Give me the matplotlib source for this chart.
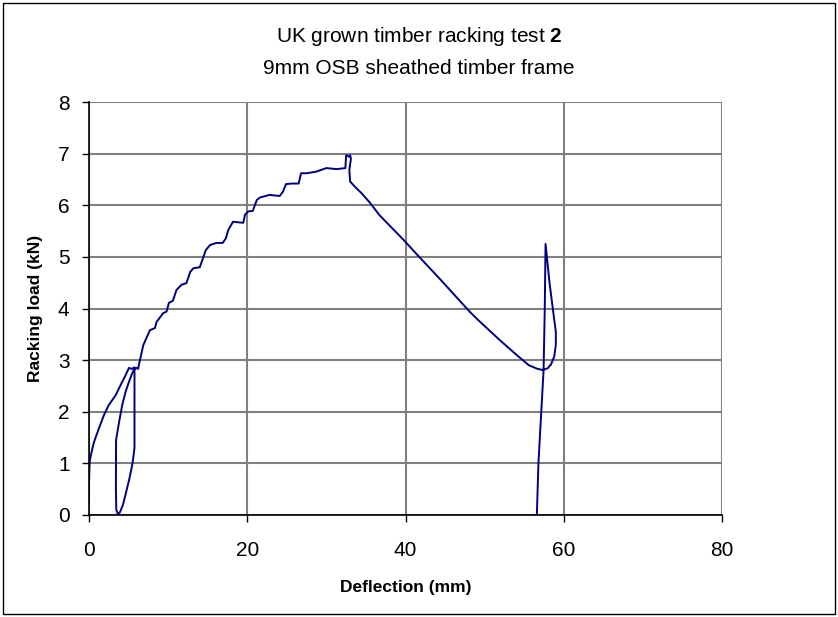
import matplotlib
matplotlib.use('Agg')
import matplotlib.pyplot as plt
from matplotlib.patches import Rectangle

plt.rcParams['font.family'] = ['Liberation Sans', 'DejaVu Sans']
plt.rcParams['mathtext.fontset'] = 'custom'
plt.rcParams['mathtext.rm'] = 'Liberation Sans'
plt.rcParams['mathtext.bf'] = 'Liberation Sans:bold'

# racking test trace: deflection (mm) against load (kN)
deflection = [0, 0, 0.05, 0.1, 0.3, 0.6, 1.26, 1.9, 2.5, 3.37, 4.0, 4.63, 5.05, 5.4, 5.75,
              5.75, 5.75, 5.5, 5.1, 4.7, 4.3, 3.9, 3.65, 3.45, 3.4, 3.42,
              3.8, 4.2, 4.63, 5.05, 5.47, 5.7, 6.0, 6.2, 6.44, 6.86, 7.7, 8.33, 8.54,
              9.38, 9.8, 10.1, 10.6, 11.06, 11.7, 12.3, 12.8, 13.2, 14.0, 14.4, 14.76,
              15.3, 16.1, 16.9, 17.3, 17.6, 18.2, 19.5, 19.7, 20.1, 20.7, 21.2, 21.6,
              22.8, 24.1, 24.5, 24.9, 25.6, 26.5, 26.8, 27.5, 28.7, 30.0, 31.3, 32.4,
              32.5, 32.9, 33.0, 33.1, 32.9, 33.0, 33.6, 34.4, 35.5, 36.7, 39.75, 41.55,
              44.3, 48.1, 49.3, 51.9, 53.97, 55.6, 56.7, 57.3, 57.96, 58.4, 58.8, 59.0,
              59.0, 58.8, 58.2, 57.7, 57.6, 57.45, 57.1, 56.8, 56.6]
load = [0.35, 0.6, 0.9, 1.05, 1.2, 1.4, 1.68, 1.94, 2.13, 2.32, 2.52, 2.71, 2.85, 2.83, 2.86,
        2.8, 1.3, 1.0, 0.7, 0.45, 0.2, 0.05, 0.02, 0.1, 0.5, 1.45,
        1.8, 2.13, 2.39, 2.58, 2.75, 2.82, 2.85, 2.83, 3.0, 3.29, 3.58, 3.62, 3.74,
        3.91, 3.94, 4.11, 4.15, 4.36, 4.46, 4.49, 4.71, 4.78, 4.8, 4.97, 5.13,
        5.23, 5.27, 5.27, 5.36, 5.52, 5.68, 5.66, 5.81, 5.88, 5.89, 6.1, 6.15,
        6.2, 6.18, 6.26, 6.41, 6.42, 6.42, 6.62, 6.62, 6.65, 6.72, 6.70, 6.72,
        6.97, 6.94, 6.97, 6.9, 6.68, 6.46, 6.36, 6.24, 6.05, 5.81, 5.33, 5.03,
        4.58, 3.94, 3.76, 3.39, 3.11, 2.9, 2.83, 2.81, 2.84, 2.92, 3.07, 3.3,
        3.55, 3.78, 4.5, 5.25, 4.0, 2.8, 1.84, 1.0, 0.0]

x_ticks = [0, 20, 40, 60, 80]
y_ticks = [0, 1, 2, 3, 4, 5, 6, 7, 8]

fig = plt.figure(figsize=(8.38, 6.17), dpi=100)
ax = fig.add_axes([89 / 838, 1 - 515 / 617, 633 / 838, 413 / 617])

ax.plot(deflection, load, color='#000080', linewidth=1.4, zorder=3)

ax.set_xlim(0, 80)
ax.set_ylim(0, 8)
ax.set_xticks(x_ticks)
ax.set_yticks(y_ticks)
ax.tick_params(labelsize=15, direction='out', length=5, width=1, color='black')
ax.tick_params(axis='x', pad=14)
ax.tick_params(axis='y', pad=9)
ax.grid(True, color='#808080', linewidth=1.5)
ax.set_axisbelow(True)
for side in ['top', 'right']:
    ax.spines[side].set_visible(False)
for side in ['left', 'bottom']:
    ax.spines[side].set_linewidth(1.2)
    ax.spines[side].set_zorder(4)

ax.set_xlabel('Deflection (mm)', fontsize=12.5, fontweight='bold', labelpad=14)
ax.set_ylabel('Racking load (kN)', fontsize=12.5, fontweight='bold', labelpad=11)

fig.text(0.5, 1 - 37 / 617, r'UK grown timber racking test $\mathbf{2}$', ha='center', va='center', fontsize=15)
fig.text(0.5, 1 - 68 / 617, '9mm OSB sheathed timber frame', ha='center', va='center', fontsize=15)

fig.patches.append(Rectangle((3 / 838, 3 / 617), 832 / 838, 611 / 617, transform=fig.transFigure,
                             fill=False, edgecolor='black', linewidth=1))

fig.savefig('out.png', dpi=100)
